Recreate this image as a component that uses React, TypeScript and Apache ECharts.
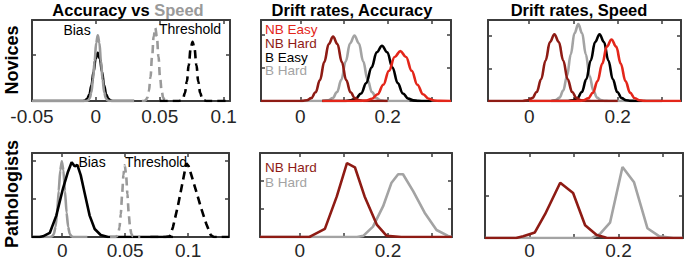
import { useEffect, useRef } from 'react';
import * as echarts from 'echarts';

type P = [number, number];

// ---------- DATA ----------
// Panel 1 (Novices): Accuracy vs Speed posteriors (bias and threshold)
const novBiasAcc: P[] = [[-0.05,0],[-0.01,0],[-0.0084,1.2],[-0.00675,4.6],[-0.0051,14.1],[-0.00345,33.8],[-0.0018,63.1],[-0.00015,91.8],[0.0015,104],[0.00315,91.8],[0.0048,63.1],[0.00645,33.8],[0.0081,14.1],[0.00975,4.6],[0.0114,1.2],[0.013,0],[0.03,0]];
const novBiasSpeed: P[] = [[-0.05,0],[-0.0075,0],[-0.006,1.6],[-0.00475,6.2],[-0.0035,19.2],[-0.00225,46.1],[-0.001,86.1],[0.00025,125.3],[0.0015,142],[0.00275,125.3],[0.004,86.1],[0.00525,46.1],[0.0065,19.2],[0.00775,6.2],[0.009,1.6],[0.0105,0],[0.03,0]];
const novThrSpeed: P[] = [[0.036,0],[0.0375,0],[0.039,1.75],[0.04025,6.9],[0.0415,21.4],[0.04275,51.3],[0.044,95.8],[0.04525,139.4],[0.0465,158],[0.04775,139.4],[0.049,95.8],[0.05025,51.3],[0.0515,21.4],[0.05275,6.9],[0.054,1.75],[0.0555,0],[0.058,0]];
const novThrAcc: P[] = [[0.05,0],[0.065,0],[0.0667,1.4],[0.0682,5.6],[0.0697,17.3],[0.0712,41.6],[0.0727,77.6],[0.0742,113],[0.0757,128],[0.0772,113],[0.0787,77.6],[0.0802,41.6],[0.0817,17.3],[0.0832,5.6],[0.0847,1.4],[0.0865,0],[0.105,0]];

// Panel 4 (Pathologists): Accuracy vs Speed
const pathBiasAcc: P[] = [[-0.024,0],[-0.018,0],[-0.0153,1.8],[-0.0099,10.6],[-0.0047,56],[0.0006,127],[0.0046,171],[0.0075,196],[0.0099,185],[0.012,189],[0.0147,162],[0.0179,114],[0.0218,56],[0.0258,21],[0.0306,5.3],[0.0364,0],[0.088,0]];
const pathBiasSpeed: P[] = [[-0.024,0],[-0.0095,0],[-0.0078,2.2],[-0.00655,8.7],[-0.0053,26.8],[-0.00405,64.3],[-0.0028,120.1],[-0.00155,174.7],[-0.0003,198],[0.00095,174.7],[0.0022,120.1],[0.00345,64.3],[0.0047,26.8],[0.00595,8.7],[0.0072,2.2],[0.009,0],[0.02,0]];
const pathThrSpeed: P[] = [[0.038,0],[0.0418,0],[0.0434,2.05],[0.04445,8.1],[0.0455,25],[0.04655,60.1],[0.0476,112.2],[0.04865,163.3],[0.0497,188],[0.05075,163.3],[0.0518,112.2],[0.05285,60.1],[0.0539,25],[0.05495,8.1],[0.056,2.05],[0.0575,0],[0.062,0]];
const pathThrAcc: P[] = [[0.07,0],[0.082,0],[0.0855,2],[0.088,26],[0.092,83],[0.0952,136],[0.0986,193],[0.1005,185],[0.1026,162],[0.1066,118],[0.1105,74],[0.1145,34],[0.118,5],[0.1205,0],[0.1325,0]];

// Panel 2 (Novices): drift rates, Accuracy
const accNBEasy: P[] = [[0.05,0],[0.135,0],[0.151,0.17],[0.164,0.66],[0.177,2.04],[0.19,4.9],[0.203,9.16],[0.216,13.33],[0.229,15.1],[0.242,13.33],[0.255,9.16],[0.268,4.9],[0.281,2.04],[0.294,0.66],[0.307,0.17],[0.32,0.03],[0.345,0]];
const accNBHard: P[] = [[-0.09,0],[0.0,0],[0.005,0.03],[0.015,0.22],[0.025,0.86],[0.035,2.64],[0.045,6.33],[0.055,11.83],[0.065,17.21],[0.075,19.5],[0.085,17.21],[0.095,11.83],[0.105,6.33],[0.115,2.64],[0.125,0.86],[0.135,0.22],[0.145,0.04],[0.16,0],[0.2,0]];
const accBEasy: P[] = [[0.05,0],[0.1,0],[0.115,0.19],[0.127,0.73],[0.139,2.26],[0.151,5.42],[0.163,10.13],[0.175,14.74],[0.187,16.7],[0.199,14.74],[0.211,10.13],[0.223,5.42],[0.235,2.26],[0.247,0.73],[0.259,0.19],[0.271,0.04],[0.285,0],[0.3,0]];
const accBHard: P[] = [[0.0,0],[0.05,0],[0.064,0.22],[0.074,0.87],[0.084,2.68],[0.094,6.43],[0.104,12.0],[0.114,17.47],[0.124,19.8],[0.134,17.47],[0.144,12.0],[0.154,6.43],[0.164,2.68],[0.174,0.87],[0.184,0.22],[0.194,0.04],[0.21,0],[0.25,0]];

// Panel 3 (Novices): drift rates, Speed
const spdNBEasy: P[] = [[0.0,0],[0.112,0],[0.123,0.21],[0.1335,0.83],[0.144,2.57],[0.1545,6.17],[0.165,11.52],[0.1755,16.77],[0.186,19],[0.1965,16.77],[0.207,11.52],[0.2175,6.17],[0.228,2.57],[0.2385,0.83],[0.249,0.21],[0.2595,0.04],[0.27,0],[0.343,0]];
const spdNBHard: P[] = [[-0.093,0],[-0.015,0],[-0.003,0.23],[0.007,0.9],[0.017,2.79],[0.027,6.69],[0.037,12.49],[0.047,18.18],[0.057,20.6],[0.067,18.18],[0.077,12.49],[0.087,6.69],[0.097,2.79],[0.107,0.9],[0.117,0.23],[0.127,0.05],[0.14,0],[0.2,0]];
const spdBEasy: P[] = [[0.05,0],[0.088,0],[0.099,0.23],[0.109,0.9],[0.119,2.79],[0.129,6.69],[0.139,12.49],[0.149,18.18],[0.159,20.6],[0.169,18.18],[0.179,12.49],[0.189,6.69],[0.199,2.79],[0.209,0.9],[0.219,0.23],[0.229,0.05],[0.24,0],[0.3,0]];
const spdBHard: P[] = [[0.0,0],[0.05,0],[0.06,0.26],[0.0685,1.04],[0.077,3.21],[0.0855,7.71],[0.094,14.4],[0.1025,20.96],[0.111,23.75],[0.1195,20.96],[0.128,14.4],[0.1365,7.71],[0.145,3.21],[0.1535,1.04],[0.162,0.26],[0.1705,0.05],[0.18,0],[0.25,0]];

// Panel 5 (Pathologists): drift rates, Accuracy
const pAccNBHard: P[] = [[-0.09,0],[0.022,0],[0.0265,0.4],[0.057,2.9],[0.084,14.5],[0.107,26.4],[0.125,24.9],[0.147,14.5],[0.175,4.3],[0.197,0.4],[0.23,0],[0.345,0]];
const pAccBHard: P[] = [[-0.09,0],[0.13,0],[0.144,0.4],[0.166,3.7],[0.189,11],[0.208,19.4],[0.223,22.4],[0.234,22.4],[0.257,16.4],[0.283,8.7],[0.31,2.5],[0.336,0.4],[0.345,0]];

// Panel 6 (Pathologists): drift rates, Speed
const pSpdNBHard: P[] = [[-0.1,0],[-0.03,0],[-0.014,0.4],[0.012,1.3],[0.035,5.6],[0.069,13.0],[0.098,10.6],[0.125,3.0],[0.151,0.7],[0.173,0.07],[0.2,0],[0.345,0]];
const pSpdBHard: P[] = [[-0.1,0],[0.14,0],[0.158,0.9],[0.181,3.6],[0.209,16.7],[0.235,13.1],[0.265,2.3],[0.292,0.4],[0.323,0],[0.345,0]];

// Tick values / labels
const thrTicksTop = [-0.05, 0, 0.05, 0.1];
const thrTicksBottom = [0, 0.05, 0.1];
const driftTicks = [0, 0.1, 0.2, 0.3];
const driftLabels = [0, 0.2];

const titles = ['Accuracy vs ', 'Speed', 'Drift rates, Accuracy', 'Drift rates, Speed'];
const rowLabels = ['Novices', 'Pathologists'];
const annot = ['Bias', 'Threshold'];
const legendTop = ['NB Easy', 'NB Hard', 'B Easy', 'B Hard'];
const legendBottom = ['NB Hard', 'B Hard'];

// ---------- STYLE ----------
const FONT = '"Liberation Sans", Arial, Helvetica, sans-serif';
const RED = '#e3261a';
const DARKRED = '#8e1b14';
const GRAY = '#a3a3a3';
const GRAY1 = '#9a9a9a';
const BLACK = '#000000';
const AX = '#3c3c3c';

interface Panel {
  left: number; top: number; width: number; height: number;
  xMin: number; xMax: number; yMax: number;
  xTicks: number[]; xLabels: number[]; yTicks: number[]; labelMargin: number;
}

const panels: Panel[] = [
  { left: 32, top: 20, width: 198, height: 81, xMin: -0.05, xMax: 0.105, yMax: 175, xTicks: thrTicksTop, xLabels: thrTicksTop, yTicks: [100], labelMargin: 6 },
  { left: 261, top: 20, width: 190, height: 81, xMin: -0.09, xMax: 0.345, yMax: 24.5, xTicks: driftTicks, xLabels: driftLabels, yTicks: [10, 20], labelMargin: 6 },
  { left: 488, top: 20, width: 193, height: 81, xMin: -0.093, xMax: 0.343, yMax: 25, xTicks: driftTicks, xLabels: driftLabels, yTicks: [10, 20], labelMargin: 6 },
  { left: 32, top: 153, width: 197, height: 84, xMin: -0.024, xMax: 0.1325, yMax: 220, xTicks: thrTicksBottom, xLabels: thrTicksBottom, yTicks: [100, 200], labelMargin: 4 },
  { left: 260, top: 153, width: 192, height: 84, xMin: -0.09, xMax: 0.345, yMax: 30, xTicks: driftTicks, xLabels: driftLabels, yTicks: [10, 20], labelMargin: 4 },
  { left: 485, top: 153, width: 198, height: 85, xMin: -0.1, xMax: 0.345, yMax: 20, xTicks: driftTicks, xLabels: driftLabels, yTicks: [10], labelMargin: 3 },
];

function buildOption() {
  const grid: any[] = [];
  const xAxis: any[] = [];
  const yAxis: any[] = [];
  const axisLine = { show: true, onZero: false, lineStyle: { color: AX, width: 2 } };
  const tick = (vals: number[]) => ({ show: true, inside: true, length: 4, lineStyle: { color: AX, width: 1.5 }, customValues: vals });
  panels.forEach((p, i) => {
    grid.push({ left: p.left, top: p.top, width: p.width, height: p.height, show: false });
    const base = { type: 'value', gridIndex: i, min: p.xMin, max: p.xMax, splitLine: { show: false }, axisLine, z: 10 };
    xAxis.push({ ...base, position: 'bottom', axisTick: tick(p.xTicks),
      axisLabel: { show: true, margin: p.labelMargin, fontSize: 19, fontFamily: FONT, color: '#262626', customValues: p.xLabels } });
    xAxis.push({ ...base, position: 'top', axisTick: tick(p.xTicks), axisLabel: { show: false } });
    const yb = { type: 'value', gridIndex: i, min: 0, max: p.yMax, splitLine: { show: false }, axisLine, axisLabel: { show: false }, axisTick: tick(p.yTicks), z: 10 };
    yAxis.push({ ...yb, position: 'left' });
    yAxis.push({ ...yb, position: 'right' });
  });

  const line = (panel: number, data: P[], color: string, dashed = false, smooth: number | boolean = 0.4) => ({
    type: 'line', xAxisIndex: panel * 2, yAxisIndex: panel * 2, data, showSymbol: false, symbol: 'none',
    smooth, smoothMonotone: 'x', clip: true, z: 20,
    lineStyle: { color, width: 2.6, type: dashed ? [8, 5] : 'solid', cap: 'butt' },
  });

  const series = [
    line(0, novBiasAcc, BLACK),
    line(0, novBiasSpeed, GRAY1),
    line(0, novThrSpeed, GRAY1, true),
    line(0, novThrAcc, BLACK, true),
    line(1, accBHard, GRAY),
    line(1, accBEasy, BLACK),
    line(1, accNBHard, DARKRED),
    line(1, accNBEasy, RED),
    line(2, spdBHard, GRAY),
    line(2, spdBEasy, BLACK),
    line(2, spdNBHard, DARKRED),
    line(2, spdNBEasy, RED),
    line(3, pathBiasSpeed, GRAY1, false, 0.2),
    line(3, pathBiasAcc, BLACK, false, false),
    line(3, pathThrSpeed, GRAY1, true, 0.2),
    line(3, pathThrAcc, BLACK, true, false),
    line(4, pAccBHard, GRAY, false, false),
    line(4, pAccNBHard, DARKRED, false, false),
    line(5, pSpdBHard, GRAY, false, false),
    line(5, pSpdNBHard, DARKRED, false, false),
  ];

  const txt = (text: string, x: number, y: number, size: number, fill: string, opts: any = {}) => ({
    type: 'text', x, y, z: 50, rotation: opts.rotation || 0,
    style: { text, fill, fontSize: size, fontFamily: FONT, fontWeight: opts.bold ? 'bold' : 'normal', align: opts.align || 'center', verticalAlign: 'middle', lineHeight: size },
  });

  const LEG = 13;
  const graphic: any[] = [
    {
      type: 'text', x: 128, y: 10, z: 50,
      style: {
        text: `{a|${titles[0]}}{b|${titles[1]}}`, align: 'center', verticalAlign: 'middle',
        rich: {
          a: { fill: '#000', fontSize: 16.5, fontWeight: 'bold', fontFamily: FONT },
          b: { fill: GRAY1, fontSize: 16.5, fontWeight: 'bold', fontFamily: FONT },
        },
      },
    },
    txt(titles[2], 352, 10, 16.5, '#000', { bold: true }),
    txt(titles[3], 579, 10, 16.5, '#000', { bold: true }),
    txt(rowLabels[0], 12, 60, 18, '#000', { bold: true, rotation: Math.PI / 2 }),
    txt(rowLabels[1], 12, 194, 18, '#000', { bold: true, rotation: Math.PI / 2 }),
    txt(annot[0], 77, 30, 14, '#000'),
    txt(annot[1], 190, 29, 14, '#000'),
    txt(annot[0], 92, 162, 14, '#000'),
    txt(annot[1], 156, 162, 14, '#000'),
    txt(legendTop[0], 265, 29.5, LEG + 0.5, RED, { align: 'left' }),
    txt(legendTop[1], 265, 43.3, LEG + 0.5, DARKRED, { align: 'left' }),
    txt(legendTop[2], 265, 57.1, LEG + 0.5, BLACK, { align: 'left' }),
    txt(legendTop[3], 265, 70.9, LEG + 0.5, GRAY, { align: 'left' }),
    txt(legendBottom[0], 265, 167, LEG + 0.5, DARKRED, { align: 'left' }),
    txt(legendBottom[1], 265, 182, LEG + 0.5, GRAY, { align: 'left' }),
  ];

  return { animation: false, backgroundColor: '#fff', grid, xAxis, yAxis, series, graphic };
}

export default function App() {
  const ref = useRef<HTMLDivElement>(null);
  useEffect(() => {
    if (!ref.current) return;
    const chart = echarts.init(ref.current, undefined, { renderer: 'svg' });
    chart.setOption(buildOption() as any);
    return () => chart.dispose();
  }, []);
  return <div ref={ref} style={{ position: 'fixed', left: 0, top: 0, width: 685, height: 260, background: '#fff' }} />;
}
